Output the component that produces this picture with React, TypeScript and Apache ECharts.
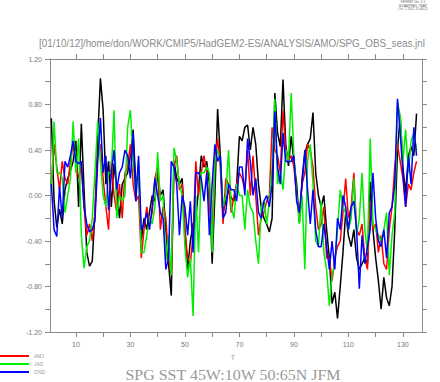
import React, { useEffect, useRef } from "react";
import * as echarts from "echarts";

const jfm = [
  0.68, -0.05, -0.28, -0.12, -0.25, 0.05, 0.15, 0.22, 0.3, 0.48,
  -0.1, 0.63, 0.05, -0.5, -0.62, -0.58, -0.15, 0.5, 1.03, 0.75,
  0.1, 0.3, -0.1, 0.28, 0.05, -0.2, 0.1, 0.15, 0.2, 0.35,
  0.58, 0.1, 0.2, -0.4, -0.2, -0.3, -0.15, 0.0, -0.05, 0.2,
  0.0, 0.05, -0.3, -0.6, -0.88, 0.3, 0.15, 0.1, 0.15, -0.3,
  -0.65, -0.4, -0.25, -0.2, 0.05, 0.35, 0.25, 0.3, 0.1, -0.6,
  0.0, 0.76, 0.35, -0.15, -0.05, 0.05, -0.02, -0.05, 0.1, 0.52,
  0.48, 0.6, 0.62, 0.4, 0.6, 0.45, 0.1, -0.1, -0.2, -0.25,
  -0.32, -0.2, 0.9, 0.55, 0.43, 1.02, 0.45, 0.26, 0.52, 0.3,
  0.1, -0.24, 0.15, 0.37, 0.45, 0.5, 0.73, 0.2, 0.0, -0.1,
  0.0, -0.3, -0.55, -0.95, -0.85, -1.08, -0.8, -0.5, -0.15, -0.35,
  -0.45, -0.3, -0.55, -0.65, -0.6, -0.55, -0.6, 0.12, -0.3, -0.55,
  -0.75, -1.0, -0.72, -0.9, -0.97, -0.8, -0.3, 0.4, 0.7, 0.25,
  0.02, 0.35, 0.43, 0.35, 0.72,
];

const amj = [
  0.1, 0.45, 0.25, 0.05, 0.3, 0.15, 0.1, 0.3, 0.45, 0.3,
  0.15, 0.25, -0.1, -0.35, -0.25, -0.4, -0.15, 0.35, 0.45, 0.15,
  -0.1, -0.3, 0.3, 0.0, -0.15, 0.1, -0.2, 0.2, 0.25, 0.45,
  0.1, -0.05, 0.0, -0.55, -0.3, -0.1, -0.25, -0.15, 0.15, 0.25,
  -0.3, -0.1, -0.2, -0.55, -0.7, 0.25, 0.35, 0.05, 0.1, -0.3,
  -0.55, -0.6, -0.35, 0.3, 0.0, 0.2, 0.35, 0.2, -0.1, -0.3,
  0.3, 0.5, 0.25, -0.25, 0.15, 0.1, -0.15, 0.0, 0.1, 0.2,
  0.15, 0.05, 0.4, 0.0, 0.35, 0.0, -0.35, -0.2, -0.15, -0.05,
  0.0, 0.6, 0.4, 0.35, 0.2, 0.75, 0.4, 0.3, 0.35, 0.25,
  0.0, -0.2, 0.1, 0.2, 0.45, 0.4, 0.25, -0.1, -0.3, -0.25,
  -0.1, -0.55, -0.55, -0.75, -0.55, -0.45, -0.4, -0.15, 0.15, -0.2,
  -0.1, 0.2, -0.3, -0.35, -0.25, -0.55, -0.65, -0.05, -0.3, -0.25,
  -0.5, -0.35, -0.6, -0.65, -0.3, -0.1, 0.25, 0.45, 0.3, 0.15,
  -0.1, 0.1, 0.05, 0.2, 0.3,
];

const jas = [
  0.05, 0.65, 0.2, 0.2, 0.15, -0.15, 0.0, 0.15, 0.65, 0.2,
  0.5, -0.35, -0.64, -0.45, -0.4, -0.2, 0.2, 0.65, 0.3, 0.0,
  -0.1, 0.2, 0.2, 0.75, -0.2, 0.0, -0.05, 0.0, 0.6, 0.75,
  0.3, 0.0, 0.3, -0.5, -0.5, -0.35, -0.2, -0.25, -0.1, 0.38,
  -0.05, 0.0, -0.58, -0.35, -0.7, 0.42, 0.3, 0.1, 0.0, -0.45,
  -0.72, -0.55, -1.06, 0.0, -0.5, 0.2, 0.2, 0.25, 0.2, -0.5,
  0.3, 0.4, 0.3, -0.1, 0.0, 0.4, -0.1, -0.2, 0.1, 0.0,
  0.0, -0.3, 0.05, -0.1, -0.15, -0.4, -0.6, -0.1, -0.05, -0.25,
  -0.05, 0.25, 0.85, 0.1, 0.2, 0.05, 0.4, 0.3, 0.9, 0.35,
  0.0, -0.25, 0.0, -0.65, 0.3, 0.45, 0.1, -0.4, -0.45, -0.05,
  -0.5, -0.65, -0.97, -0.7, -0.6, -0.3, 0.05, -0.1, -0.15, -0.3,
  -0.2, 0.15, -0.35, -0.2, 0.2, -0.3, -0.5, 0.5, -0.25, -0.3,
  -0.35, -0.4, -0.3, -0.15, -0.7, -0.35, -0.15, 0.82, 0.7, 0.3,
  0.58, 0.2, 0.48, 0.55, 0.4,
];

const ond = [
  0.1, -0.3, -0.36, 0.08, -0.2, 0.3, 0.25, 0.35, 0.48, 0.3,
  0.28, 0.3, -0.1, -0.25, -0.32, -0.3, -0.22, 0.3, 0.68, 0.2,
  0.35, -0.13, 0.2, 0.4, 0.05, 0.2, 0.25, 0.4, 0.35, 0.15,
  0.55, -0.05, 0.35, -0.3, -0.25, -0.15, -0.3, -0.1, 0.15, 0.0,
  -0.15, -0.2, -0.65, -0.55, 0.3, 0.25, 0.1, -0.35, 0.0, -0.1,
  -0.35, -0.05, -0.5, 0.2, 0.2, 0.15, -0.05, 0.2, -0.35, 0.1,
  0.45, 0.3, 0.35, -0.2, -0.15, 0.1, 0.05, 0.05, -0.05, 0.25,
  0.25, 0.0, 0.5, 0.3, 0.0, 0.15, -0.15, -0.2, -0.05, 0.0,
  -0.1, 0.1, 0.74, 0.25, 0.1, 0.55, 0.3, 0.3, 0.3, 0.35,
  -0.05, -0.15, 0.1, 0.4, 0.05, -0.25, 0.05, -0.3, -0.45, -0.45,
  -0.25, -0.45, -0.65, -0.4, -0.65, -0.2, -0.3, 0.0, -0.1, -0.3,
  -0.1, -0.05, -0.3, -0.82, -0.35, -0.6, -0.45, -0.3, 0.2, -0.2,
  -0.4, -0.45, -0.3, -0.55, -0.15, -0.1, 0.1, 0.85, 0.55, 0.2,
  -0.1, 0.35, 0.1, 0.6, 0.35,
];

const xTicks = [10, 20, 30, 40, 50, 60, 70, 80, 90, 100, 110, 120, 130];
const xLabels = [10, 30, 50, 70, 90, 110, 130];
const headerLines = ["FERRET Ver. 6.1", "NOAA/PMEL TMAP", "Oct  1 2012 15:46:12"];
const titleText = "[01/10/12]/home/don/WORK/CMIP5/HadGEM2-ES/ANALYSIS/AMO/SPG_OBS_seas.jnl";
const bottomTitle = "SPG SST 45W:10W 50:65N JFM";

const toPairs = (arr: number[]) => arr.map((v, i) => [i + 1, v]);

export default function App() {
  const ref = useRef<HTMLDivElement>(null);
  useEffect(() => {
    if (!ref.current) return;
    const chart = echarts.init(ref.current, null, { renderer: "svg" });
    const axisGrey = "#8a8a8a";
    const font = "Liberation Sans, Arial, sans-serif";
    const xBase = {
      type: "value",
      min: 0.5,
      max: 137,
      splitLine: { show: false },
      axisLine: { onZero: false, lineStyle: { color: axisGrey, width: 1 } },
      axisTick: { customValues: xTicks, length: 5, lineStyle: { color: axisGrey } },
    };
    const yBase = {
      type: "value",
      min: -1.2,
      max: 1.2,
      interval: 0.2,
      splitLine: { show: false },
      axisLine: { show: true, onZero: false, lineStyle: { color: axisGrey, width: 1 } },
      axisTick: { show: true, length: 5, lineStyle: { color: axisGrey } },
    };
    const line = (name: string, data: number[], color: string) => ({
      name,
      type: "line",
      data: toPairs(data),
      showSymbol: false,
      symbol: "none",
      lineStyle: { color, width: 1.5 },
      itemStyle: { color },
      xAxisIndex: 0,
      yAxisIndex: 0,
    });
    chart.setOption({
      animation: false,
      backgroundColor: "#ffffff",
      grid: { left: 50, right: 18, top: 59, bottom: 50, containLabel: false },
      legend: {
        data: ["AMJ", "JAS", "OND"],
        orient: "vertical",
        left: 0,
        top: 352,
        padding: 0,
        itemGap: 0,
        itemWidth: 29,
        itemHeight: 2,
        icon: "rect",
        textStyle: { fontSize: 5, color: "#999", lineHeight: 8, fontFamily: font },
      },
      xAxis: [
        {
          ...xBase,
          position: "bottom",
          axisLabel: { customValues: xLabels, fontSize: 7, color: "#777", margin: 9, fontFamily: font },
        },
        {
          ...xBase,
          position: "top",
          axisLabel: { show: false },
        },
      ],
      yAxis: [
        {
          ...yBase,
          position: "left",
          axisLabel: {
            fontSize: 7,
            color: "#777",
            margin: 8,
            fontFamily: font,
            formatter: (v: number) => {
              const k = Math.round(v * 10);
              return k % 4 === 0 ? (k / 10).toFixed(2) : "";
            },
          },
        },
        {
          ...yBase,
          position: "right",
          axisLabel: { show: false },
        },
      ],
      series: [
        line("JFM", jfm, "#000000"),
        line("AMJ", amj, "#ff0000"),
        line("JAS", jas, "#00ee00"),
        line("OND", ond, "#0000ff"),
      ],
      graphic: [
        ...headerLines.map((t, i) => ({
          type: "text",
          x: 413,
          y: 2.2 + i * 3.3,
          style: { text: t, fontSize: 3.2, lineHeight: 3.2, fill: "#666", align: "center", verticalAlign: "middle", fontFamily: font },
        })),
        {
          type: "text",
          x: 232,
          y: 43,
          scaleX: 0.94,
          style: { text: titleText, fontSize: 10.5, fill: "#8c8c8c", align: "center", verticalAlign: "middle", fontFamily: font },
        },
        {
          type: "text",
          x: 233,
          y: 357,
          style: { text: "T", fontSize: 7, fill: "#999", align: "center", verticalAlign: "middle", fontFamily: font },
        },
        {
          type: "text",
          x: 233,
          y: 375,
          scaleX: 1.14,
          style: { text: bottomTitle, fontSize: 14, lineHeight: 14, fill: "#999", align: "center", verticalAlign: "middle", fontFamily: "Liberation Serif, serif" },
        },
      ],
    });
    return () => chart.dispose();
  }, []);
  return <div ref={ref} style={{ width: 440, height: 382, position: "absolute", left: 0, top: 0 }} />;
}
